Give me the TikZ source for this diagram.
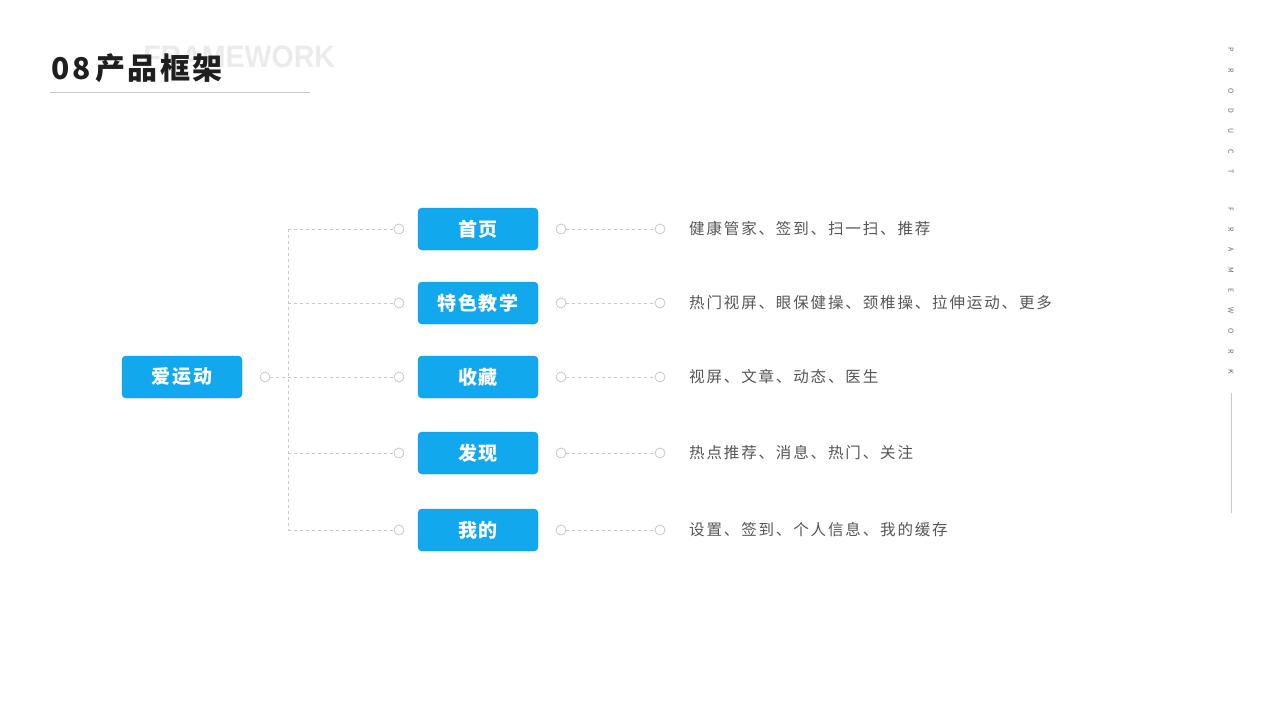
\documentclass[tikz,border=0pt]{standalone}
\usepackage{fontspec}
\setmainfont{Noto Sans CJK SC}
\newfontfamily\cjk{Noto Sans CJK SC}
\newfontfamily\latinbold{Liberation Sans}
\usetikzlibrary{positioning}
\definecolor{skyblue}{HTML}{12A8EE}
\definecolor{skyedge}{HTML}{0A96DC}
\definecolor{linkgray}{HTML}{C8C8C8}
\definecolor{textgray}{HTML}{555555}
\tikzset{
  menubox/.style={draw=skyedge, fill=skyblue, rounded corners=4pt, minimum width=120pt,
    minimum height=42pt, text=white, font=\cjk\bfseries\fontsize{19}{19}\selectfont},
  dot/.style={circle, draw=linkgray, fill=white, inner sep=0pt, minimum size=10pt, line width=0.8pt},
  link/.style={draw=linkgray, dashed, line width=0.8pt},
  desc/.style={anchor=west, text=textgray, font=\cjk\fontsize{15.5}{16}\selectfont, inner sep=0pt},
}
\begin{document}
\begin{tikzpicture}[x=1pt,y=-1pt]
  \useasboundingbox (0,0) rectangle (1280,720);
  % title
  \node[anchor=west, text=black!8, font=\latinbold\bfseries\fontsize{31}{31}\selectfont, xscale=0.92] (ghost) at (140,57) {FRAMEWORK};
  \node[anchor=west, font=\cjk\bfseries\fontsize{30}{30}\selectfont, text=black!88] (title) at (48,68) {\addfontfeature{LetterSpace=8}08\,产品框架};
  \draw[linkgray, line width=0.8pt] (50,92) coordinate (ruleL) -- (310,92) coordinate (ruleR);
  % side label
  \foreach \ch [count=\i] in {P,R,O,D,U,C,T}
    \node[text=black!60, font=\fontsize{7}{7}\selectfont, rotate=-90] (sideA\i) at (1231,50+20.3*\i-20.3) {\ch};
  \foreach \ch [count=\i] in {F,R,A,M,E,W,O,R,K}
    \node[text=black!60, font=\fontsize{7}{7}\selectfont, rotate=-90] (sideB\i) at (1231,209+20.4*\i-20.4) {\ch};
  \draw[linkgray, line width=0.8pt] (1231,393) coordinate (sideTop) -- (1231,513) coordinate (sideBot);
  % root
  \node[menubox] (root) at (182,377) {\addfontfeature{LetterSpace=8}爱运动};
  \node[dot] (rootdot) at (265,377) {};
  \coordinate (spineT) at (288,229);
  \coordinate (spineB) at (288,530);
  \path[link] (spineT) -- (spineB);
  \path[link] (rootdot) -- (288,377);
  % branches
  \foreach \y/\name/\label/\txt in {
      229/home/首页/健康管家、签到、扫一扫、推荐,
      303/teach/特色教学/热门视屏、眼保健操、颈椎操、拉伸运动、更多,
      377/fav/收藏/视屏、文章、动态、医生,
      453/find/发现/热点推荐、消息、热门、关注,
      530/mine/我的/设置、签到、个人信息、我的缓存} {
    \node[dot] (\name in) at (399,\y) {};
    \node[menubox] (\name) at (478,\y) {\addfontfeature{LetterSpace=8}\label};
    \node[dot] (\name out) at (561,\y) {};
    \node[dot] (\name end) at (660,\y) {};
    \node[desc] (\name txt) at (689,\y) {\addfontfeature{LetterSpace=12}\txt};
    \path[link] (288,\y) -- (\name in);
    \path[link] (\name out) -- (\name end);
  }
\end{tikzpicture}
\end{document}
